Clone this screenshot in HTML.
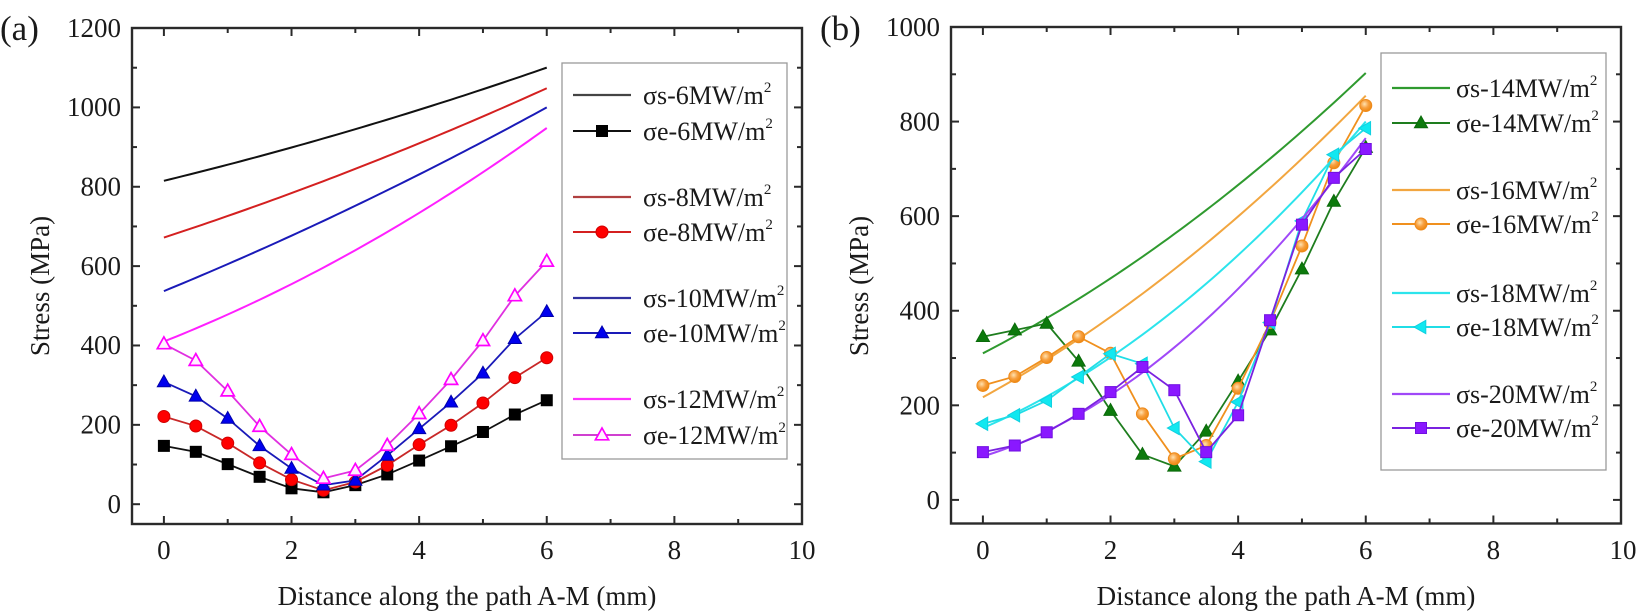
<!DOCTYPE html>
<html>
<head>
<meta charset="utf-8">
<style>
html,body{margin:0;padding:0;background:#fff;}
svg{display:block;}
text{font-family:"Liberation Serif","DejaVu Serif",serif;fill:#1a1a1a;}
</style>
</head>
<body>
<svg id="chart" width="1636" height="612" viewBox="0 0 1636 612" xmlns="http://www.w3.org/2000/svg">
<defs>
<radialGradient id="og" cx="40%" cy="38%" r="60%">
<stop offset="0" stop-color="#ffe2b0"/>
<stop offset="0.55" stop-color="#f7a040"/>
<stop offset="1" stop-color="#ef8a14"/>
</radialGradient>
</defs>

<!-- Panel labels -->
<text x="0" y="40" font-size="35">(a)</text>
<text x="820" y="40" font-size="35">(b)</text>

<!-- Panel a tick labels -->
<g font-size="27" text-anchor="end">
<text x="121" y="513">0</text>
<text x="121" y="433.6">200</text>
<text x="121" y="354.2">400</text>
<text x="121" y="274.8">600</text>
<text x="121" y="195.5">800</text>
<text x="121" y="116.1">1000</text>
<text x="121" y="36.8">1200</text>
</g>
<g font-size="27" text-anchor="middle">
<text x="163.9" y="559">0</text>
<text x="291.5" y="559">2</text>
<text x="419.1" y="559">4</text>
<text x="546.8" y="559">6</text>
<text x="674.4" y="559">8</text>
<text x="802" y="559">10</text>
</g>
<text x="467" y="605" font-size="27" text-anchor="middle">Distance along the path A-M (mm)</text>
<text transform="translate(49,286) rotate(-90)" font-size="27" text-anchor="middle">Stress (MPa)</text>

<!-- Panel b tick labels -->
<g font-size="27" text-anchor="end">
<text x="940" y="509">0</text>
<text x="940" y="414.3">200</text>
<text x="940" y="319.7">400</text>
<text x="940" y="225.1">600</text>
<text x="940" y="130.5">800</text>
<text x="940" y="36">1000</text>
</g>
<g font-size="27" text-anchor="middle">
<text x="982.9" y="559">0</text>
<text x="1110.5" y="559">2</text>
<text x="1238.1" y="559">4</text>
<text x="1365.8" y="559">6</text>
<text x="1493.4" y="559">8</text>
<text x="1623" y="559">10</text>
</g>
<text x="1286" y="605" font-size="27" text-anchor="middle">Distance along the path A-M (mm)</text>
<text transform="translate(868,286) rotate(-90)" font-size="27" text-anchor="middle">Stress (MPa)</text>

<g id="plots"></g>

<!-- Legend a -->
<rect x="562" y="63" width="225" height="396" fill="#fff" stroke="#9a9a9a" stroke-width="1.3"/>
<g font-size="26">
<text x="643" y="104">σs-6MW/m<tspan font-size="15" dy="-12">2</tspan></text>
<text x="643" y="140">σe-6MW/m<tspan font-size="15" dy="-12">2</tspan></text>
<text x="643" y="206">σs-8MW/m<tspan font-size="15" dy="-12">2</tspan></text>
<text x="643" y="241">σe-8MW/m<tspan font-size="15" dy="-12">2</tspan></text>
<text x="643" y="307">σs-10MW/m<tspan font-size="15" dy="-12">2</tspan></text>
<text x="643" y="342">σe-10MW/m<tspan font-size="15" dy="-12">2</tspan></text>
<text x="643" y="408">σs-12MW/m<tspan font-size="15" dy="-12">2</tspan></text>
<text x="643" y="444">σe-12MW/m<tspan font-size="15" dy="-12">2</tspan></text>
</g>
<g id="lega"></g>

<!-- Legend b -->
<rect x="1381" y="53" width="225" height="417" fill="#fff" stroke="#9a9a9a" stroke-width="1.3"/>
<g font-size="26">
<text x="1456" y="97">σs-14MW/m<tspan font-size="15" dy="-12">2</tspan></text>
<text x="1456" y="132">σe-14MW/m<tspan font-size="15" dy="-12">2</tspan></text>
<text x="1456" y="199">σs-16MW/m<tspan font-size="15" dy="-12">2</tspan></text>
<text x="1456" y="233">σe-16MW/m<tspan font-size="15" dy="-12">2</tspan></text>
<text x="1456" y="302">σs-18MW/m<tspan font-size="15" dy="-12">2</tspan></text>
<text x="1456" y="336">σe-18MW/m<tspan font-size="15" dy="-12">2</tspan></text>
<text x="1456" y="403">σs-20MW/m<tspan font-size="15" dy="-12">2</tspan></text>
<text x="1456" y="437">σe-20MW/m<tspan font-size="15" dy="-12">2</tspan></text>
</g>
<g id="legb"></g>

<g id="axes"></g>
</svg>

<script>
(function(){
var NS="http://www.w3.org/2000/svg";
function el(parent,tag,attrs){var e=document.createElementNS(NS,tag);for(var k in attrs)e.setAttribute(k,attrs[k]);parent.appendChild(e);return e;}
var plots=document.getElementById('plots');
var axes=document.getElementById('axes');

var A={L:132,R:802,T:28,B:524,x0:163.9,sx:63.81,y0:504.2,sy:0.3968,ymax:1200};
var B={L:951,R:1621,T:27,B:523.5,x0:982.9,sx:63.81,y0:499.9,sy:0.4729,ymax:1000};
function px(P,x){return P.x0+P.sx*x;}
function py(P,v){return P.y0-P.sy*v;}

function marker(g,type,x,y,fill,stroke){
  var s=stroke||fill;
  if(type==='sq'){el(g,'rect',{x:x-5.5,y:y-5.5,width:11,height:11,fill:fill,stroke:s,'stroke-width':1});}
  else if(type==='ci'){el(g,'circle',{cx:x,cy:y,r:6,fill:fill,stroke:s,'stroke-width':1});}
  else if(type==='tu'){el(g,'polygon',{points:(x)+','+(y-7)+' '+(x+6.6)+','+(y+4.8)+' '+(x-6.6)+','+(y+4.8),fill:fill,stroke:s,'stroke-width':1});}
  else if(type==='to'){el(g,'polygon',{points:(x)+','+(y-7)+' '+(x+6.6)+','+(y+4.8)+' '+(x-6.6)+','+(y+4.8),fill:fill,stroke:s,'stroke-width':1.7});}
  else if(type==='tl'){el(g,'polygon',{points:(x-7)+','+(y)+' '+(x+4.8)+','+(y-6.6)+' '+(x+4.8)+','+(y+6.6),fill:fill,stroke:s,'stroke-width':1});}
}

function curve(P,a,b,c,color,w){
  var d='';
  for(var i=0;i<=60;i++){var x=i*0.1;var v=a+b*x+c*x*x;d+=(i?'L':'M')+px(P,x).toFixed(2)+','+py(P,v).toFixed(2);}
  el(plots,'path',{d:d,fill:'none',stroke:color,'stroke-width':w||2});
}
function series(P,vals,color,lw,type,mfill,mstroke){
  var d='';
  for(var i=0;i<vals.length;i++){d+=(i?'L':'M')+px(P,i*0.5).toFixed(2)+','+py(P,vals[i]).toFixed(2);}
  el(plots,'path',{d:d,fill:'none',stroke:color,'stroke-width':lw||1.8});
  for(var i=0;i<vals.length;i++){marker(plots,type,px(P,i*0.5),py(P,vals[i]),mfill,mstroke);}
}

// Panel a
curve(A,815,39.2,1.39,'#111',2);
curve(A,672,52.7,1.67,'#d42020',2);
curve(A,537,66.2,1.83,'#1a1ab8',2);
curve(A,410,63.7,4.33,'#ff20ff',2);
series(A,[147,132,101,69,40,30,48,75,110,146,182,226,262],'#111',1.8,'sq','#000','#000');
series(A,[221,197,154,104,62,35,56,98,150,199,255,319,369],'#c82828',1.8,'ci','#ff0000','#d00000');
series(A,[308,272,216,147,90,48,60,123,190,257,330,417,485],'#1a1ab8',1.8,'tu','#0000ee','#0000aa');
series(A,[404,362,285,196,125,65,85,148,228,314,412,525,612],'#e030e0',1.8,'to','#fff0ff','#ff00ff');

// Panel b
curve(B,310,69.4,4.9,'#2f9a2f',2);
series(B,[345,359,373,293,189,96,71,145,251,359,488,631,745],'#1e7d1e',1.8,'tu','#0c7a0c','#0a6a0a');
curve(B,217,74.2,5.35,'#f2a640',2);
series(B,[242,261,301,345,310,182,87,115,236,375,537,713,834],'#f0901e',1.8,'ci','url(#og)','#ee8a1a');
curve(B,152,58.2,8.3,'#2ce4ec',2);
series(B,[161,179,210,260,309,288,152,81,207,375,590,730,786],'#20dde6',1.8,'tl','#10e8f0','#10d0e0');
curve(B,92,41.4,11.8,'#a048f8',2);
series(B,[101,115,143,182,228,281,232,101,179,380,582,681,742],'#7a22e0',1.8,'sq','#8a18ff','#7010e0');

// Legend a
var la=document.getElementById('lega');
function legLine(g,x1,x2,y,color,w){el(g,'line',{x1:x1,y1:y,x2:x2,y2:y,stroke:color,'stroke-width':w||2});}
legLine(la,573,631,95,'#444',2.2);
legLine(la,573,631,131,'#111',2);marker(la,'sq',602,131,'#000','#000');
legLine(la,573,631,197,'#b04040',2.2);
legLine(la,573,631,232,'#d42020',2);marker(la,'ci',602,232,'#ff0000','#d00000');
legLine(la,573,631,298,'#3030a0',2.2);
legLine(la,573,631,333,'#1a1ab8',2);marker(la,'tu',602,333,'#0000ee','#0000aa');
legLine(la,573,631,399,'#ff30ff',2.2);
legLine(la,573,631,435,'#d040d0',2);marker(la,'to',602,435,'#fff0ff','#ff00ff');

// Legend b
var lb=document.getElementById('legb');
legLine(lb,1392,1450,88,'#2f9a2f',2.2);
legLine(lb,1392,1450,123,'#1e7d1e',2);marker(lb,'tu',1421,123,'#0c7a0c','#0a6a0a');
legLine(lb,1392,1450,190,'#f2a640',2.2);
legLine(lb,1392,1450,224,'#f0901e',2);marker(lb,'ci',1421,224,'url(#og)','#ee8a1a');
legLine(lb,1392,1450,293,'#2ce4ec',2.2);
legLine(lb,1392,1450,327,'#20dde6',2);marker(lb,'tl',1421,327,'#10e8f0','#10d0e0');
legLine(lb,1392,1450,394,'#a048f8',2.2);
legLine(lb,1392,1450,428,'#7a22e0',2);marker(lb,'sq',1421,428,'#8a18ff','#7010e0');

// Axes frames and ticks
function frame(P){
  el(axes,'rect',{x:P.L,y:P.T,width:P.R-P.L,height:P.B-P.T,fill:'none',stroke:'#2a2a2a','stroke-width':2.4});
  for(var x=0;x<=10;x++){
    var X=px(P,x);var len=(x%2===0)?8:5;
    el(axes,'line',{x1:X,y1:P.B,x2:X,y2:P.B-len,stroke:'#2a2a2a','stroke-width':2});
    el(axes,'line',{x1:X,y1:P.T,x2:X,y2:P.T+len,stroke:'#2a2a2a','stroke-width':2});
  }
  for(var v=0;v<=P.ymax;v+=100){
    var Y=py(P,v);var len=(v%200===0)?8:5;
    el(axes,'line',{x1:P.L,y1:Y,x2:P.L+len,y2:Y,stroke:'#2a2a2a','stroke-width':2});
    el(axes,'line',{x1:P.R,y1:Y,x2:P.R-len,y2:Y,stroke:'#2a2a2a','stroke-width':2});
  }
}
frame(A);frame(B);
})();
</script>
</body>
</html>
